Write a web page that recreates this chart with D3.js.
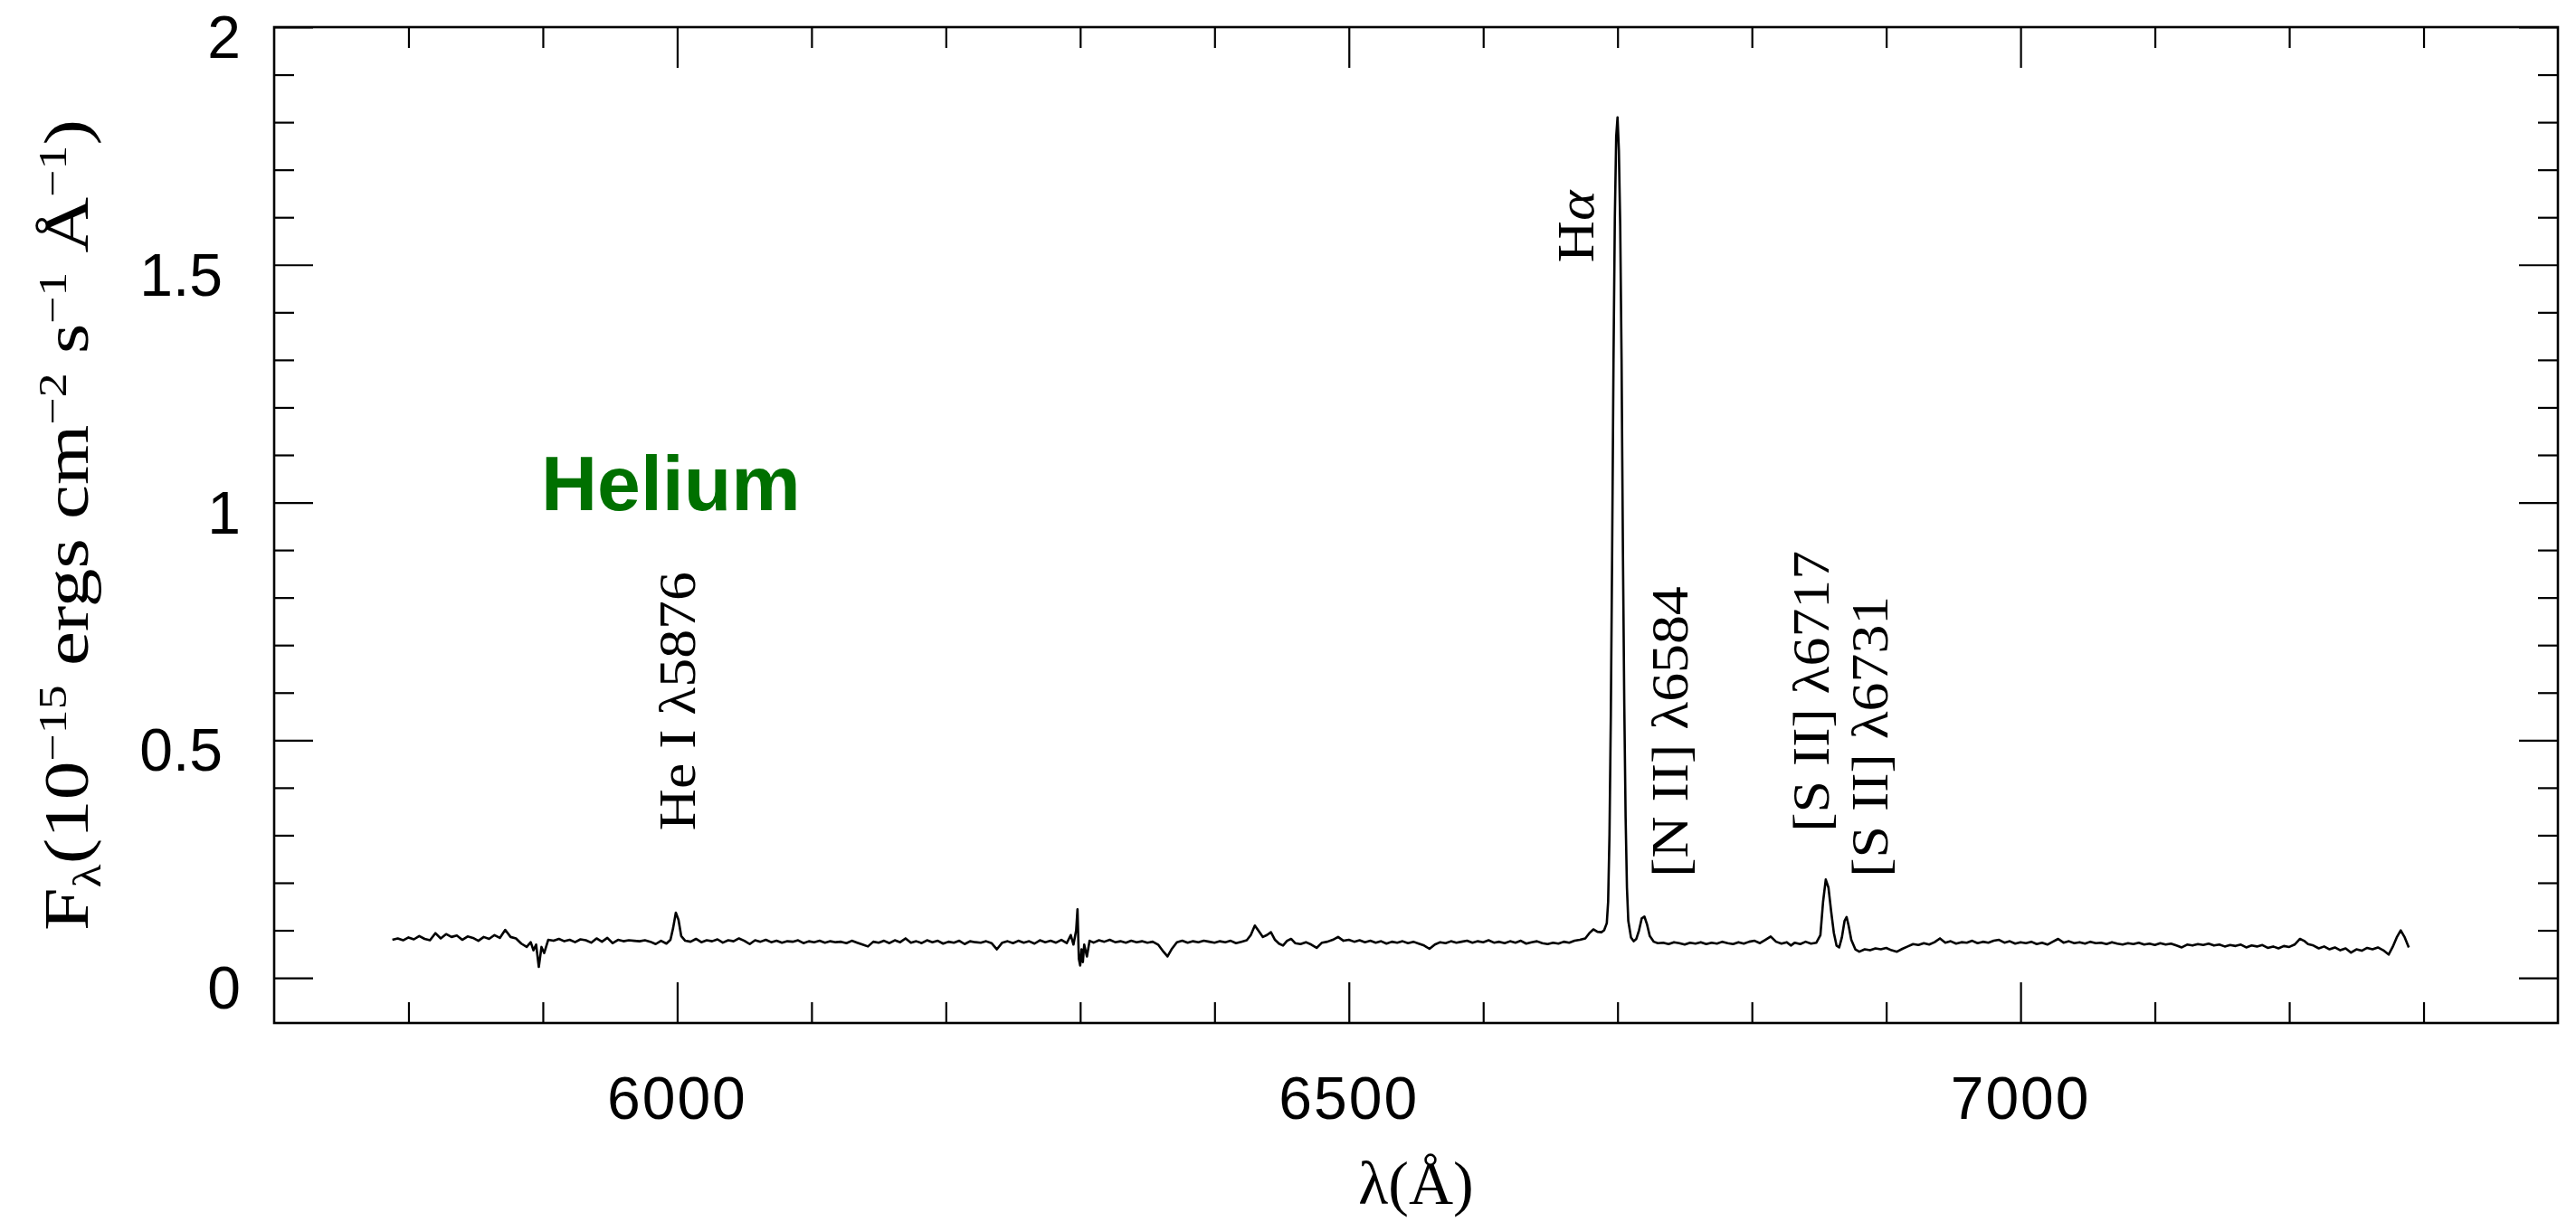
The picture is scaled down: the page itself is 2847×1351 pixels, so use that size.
<!DOCTYPE html>
<html>
<head>
<meta charset="utf-8">
<script src="https://cdn.jsdelivr.net/npm/d3@7/dist/d3.min.js"></script>
<style>
  body { margin: 0; background: #fff; }
  svg { display: block; }
</style>
</head>
<body>
<svg id="chart" width="2847" height="1351"></svg>
<script>
var spectrum = [
  [5788,.080],[5792,.083],[5796,.079],[5800,.085],[5804,.081],[5808,.088],[5812,.082],[5816,.079],
  [5820,.094],[5824,.083],[5828,.092],[5832,.086],[5836,.089],[5840,.080],[5844,.087],[5848,.084],
  [5852,.078],[5856,.086],[5860,.082],[5864,.090],[5868,.084],[5872,.101],[5876,.086],[5880,.083],
  [5884,.072],[5888,.065],[5891,.075],[5893,.058],[5895,.070],[5897,.023],[5899,.065],[5901,.052],
  [5904,.080],[5908,.078],[5912,.082],[5916,.077],[5920,.080],[5924,.075],[5928,.081],[5932,.079],
  [5936,.074],[5940,.083],[5944,.076],[5948,.084],[5952,.073],[5956,.080],[5960,.077],[5964,.079],
  [5968,.078],[5972,.077],[5976,.079],[5980,.076],[5984,.071],[5988,.078],[5992,.072],[5995,.080],
  [5997,.105],[5999,.137],[6001,.122],[6003,.088],[6006,.078],[6010,.076],[6014,.082],[6018,.075],
  [6022,.079],[6026,.077],[6030,.081],[6034,.074],[6038,.079],[6042,.077],[6046,.083],[6050,.078],
  [6054,.071],[6058,.079],[6062,.076],[6066,.080],[6070,.075],[6074,.078],[6078,.074],[6082,.077],
  [6086,.076],[6090,.079],[6094,.073],[6098,.077],[6102,.075],[6106,.078],[6110,.074],[6114,.077],
  [6118,.075],[6122,.076],[6126,.073],[6130,.078],[6134,.074],[6138,.070],[6142,.066],[6146,.076],
  [6150,.074],[6154,.078],[6158,.073],[6162,.079],[6166,.075],[6170,.083],[6174,.074],[6178,.077],
  [6182,.073],[6186,.079],[6190,.075],[6194,.078],[6198,.072],[6202,.076],[6206,.074],[6210,.078],
  [6214,.071],[6218,.077],[6222,.075],[6226,.074],[6230,.077],[6234,.073],[6238,.060],[6242,.074],
  [6246,.077],[6250,.073],[6254,.078],[6258,.074],[6262,.077],[6266,.072],[6270,.079],[6274,.075],
  [6278,.078],[6282,.074],[6286,.080],[6290,.073],[6293,.090],[6295,.070],[6297,.100],[6298,.144],
  [6299,.040],[6300,.026],[6301,.060],[6302,.033],[6303,.070],[6305,.045],[6307,.078],[6310,.074],
  [6314,.079],[6318,.076],[6322,.080],[6326,.075],[6330,.077],[6334,.074],[6338,.078],[6342,.075],
  [6346,.077],[6350,.074],[6354,.076],[6358,.070],[6362,.055],[6365,.045],[6368,.060],[6372,.075],
  [6376,.078],[6380,.074],[6384,.077],[6388,.075],[6392,.078],[6396,.076],[6400,.074],[6404,.077],
  [6408,.075],[6412,.078],[6416,.073],[6420,.076],[6424,.079],[6427,.090],[6430,.110],[6433,.098],
  [6436,.086],[6439,.090],[6442,.096],[6445,.080],[6448,.072],[6451,.068],[6454,.078],[6457,.082],
  [6460,.073],[6464,.071],[6468,.075],[6472,.070],[6476,.063],[6480,.074],[6484,.076],[6488,.080],
  [6492,.086],[6496,.078],[6500,.080],[6504,.076],[6508,.079],[6512,.075],[6516,.078],[6520,.074],
  [6524,.077],[6528,.072],[6532,.076],[6536,.074],[6540,.077],[6544,.073],[6548,.076],[6552,.072],
  [6556,.068],[6560,.061],[6564,.070],[6568,.075],[6572,.073],[6576,.077],[6580,.074],[6584,.076],
  [6588,.078],[6592,.074],[6596,.077],[6600,.075],[6604,.079],[6608,.074],[6612,.076],[6616,.073],
  [6620,.077],[6624,.074],[6628,.078],[6632,.072],[6636,.075],[6640,.077],[6644,.073],[6648,.071],
  [6652,.074],[6656,.072],[6660,.076],[6664,.074],[6668,.078],[6672,.080],[6676,.083],[6679,.094],
  [6682,.102],[6685,.097],[6688,.096],[6690,.100],[6692,.115],[6693,.160],[6694,.300],[6695,.550],
  [6696,.900],[6697,1.30],[6698,1.60],[6699,1.77],[6700,1.81],[6701,1.74],[6702,1.58],[6703,1.30],
  [6704,.900],[6705,.580],[6706,.340],[6707,.190],[6708,.120],[6710,.085],[6712,.077],[6714,.082],
  [6716,.100],[6718,.125],[6720,.129],[6722,.112],[6724,.088],[6727,.076],[6730,.073],[6734,.074],
  [6738,.071],[6742,.075],[6746,.073],[6750,.070],[6754,.074],[6758,.072],[6762,.075],[6766,.071],
  [6770,.074],[6774,.072],[6778,.076],[6782,.073],[6786,.071],[6790,.075],[6794,.072],[6798,.076],
  [6802,.078],[6806,.073],[6810,.080],[6814,.087],[6818,.076],[6822,.072],[6826,.075],[6829,.068],
  [6832,.074],[6836,.071],[6840,.076],[6844,.072],[6848,.074],[6851,.090],[6853,.160],[6855,.207],
  [6857,.190],[6859,.140],[6861,.095],[6863,.068],[6865,.064],[6867,.085],[6869,.120],[6870.5,.128],
  [6872,.110],[6874,.080],[6877,.060],[6880,.055],[6884,.060],[6888,.058],[6892,.062],[6896,.060],
  [6900,.063],[6904,.058],[6908,.055],[6912,.061],[6916,.066],[6920,.071],[6924,.069],[6928,.073],
  [6932,.070],[6936,.075],[6940,.083],[6944,.074],[6948,.077],[6952,.072],[6956,.075],[6960,.074],
  [6964,.078],[6968,.073],[6972,.076],[6976,.074],[6980,.078],[6984,.080],[6988,.074],[6992,.077],
  [6996,.072],[7000,.075],[7004,.073],[7008,.076],[7012,.071],[7016,.074],[7020,.070],[7024,.076],
  [7028,.082],[7032,.074],[7036,.077],[7040,.073],[7044,.075],[7048,.072],[7052,.076],[7056,.073],
  [7060,.074],[7064,.071],[7068,.075],[7072,.072],[7076,.070],[7080,.073],[7084,.071],[7088,.074],
  [7092,.070],[7096,.072],[7100,.069],[7104,.073],[7108,.070],[7112,.072],[7116,.068],[7120,.064],
  [7124,.070],[7128,.068],[7132,.071],[7136,.069],[7140,.072],[7144,.068],[7148,.070],[7152,.066],
  [7156,.069],[7160,.067],[7164,.070],[7168,.064],[7172,.068],[7176,.066],[7180,.069],[7184,.063],
  [7188,.066],[7192,.062],[7196,.067],[7200,.065],[7204,.070],[7208,.082],[7211,.078],[7214,.071],
  [7218,.068],[7222,.062],[7226,.066],[7230,.060],[7234,.064],[7238,.058],[7242,.062],[7246,.053],
  [7250,.060],[7254,.057],[7258,.063],[7262,.060],[7266,.064],[7270,.058],[7274,.049],[7277,.065],
  [7280,.085],[7283,.100],[7286,.085],[7289,.064]
];

// line identifications: text, wavelength of the text baseline, flux where the text starts
var lineNames = ['He I \u03bb5876', 'H', '[N II] \u03bb6584', '[S II] \u03bb6717', '[S II] \u03bb6731'];
var lineWave = [6013, 6682, 6752, 6857, 6901];
var lineFlux = [0.31, 1.505, 0.212, 0.307, 0.212];

var xMajorTicks = [6000, 6500, 7000];
var xMinorTicks = [5800, 5900, 6100, 6200, 6300, 6400, 6600, 6700, 6800, 6900, 7100, 7200, 7300];
var yMajorTicks = [0, 0.5, 1, 1.5, 2];
var yMinorTicks = [0.1, 0.2, 0.3, 0.4, 0.6, 0.7, 0.8, 0.9, 1.1, 1.2, 1.3, 1.4, 1.6, 1.7, 1.8, 1.9];

var svg = d3.select('#chart');
var frameL = 303, frameR = 2827, frameT = 30, frameB = 1131;

var x = d3.scaleLinear().domain([5700, 7400]).range([frameL, frameR]);
var y = d3.scaleLinear().domain([-0.095, 2]).range([frameB, frameT]);

function tickAxis(axis, values, size, transform) {
  var g = svg.append('g')
    .attr('transform', transform)
    .call(axis.tickValues(values).tickSizeInner(size).tickSizeOuter(0).tickFormat(''));
  g.select('.domain').remove();
  g.selectAll('line').attr('stroke', '#000').attr('stroke-width', 2.2);
  return g;
}

// ticks on all four sides, pointing inwards
tickAxis(d3.axisBottom(x), xMinorTicks, -23, 'translate(0,' + frameB + ')');
tickAxis(d3.axisBottom(x), xMajorTicks, -45, 'translate(0,' + frameB + ')');
tickAxis(d3.axisTop(x), xMinorTicks, -23, 'translate(0,' + frameT + ')');
tickAxis(d3.axisTop(x), xMajorTicks, -45, 'translate(0,' + frameT + ')');
tickAxis(d3.axisLeft(y), yMinorTicks, -22, 'translate(' + frameL + ',0)');
tickAxis(d3.axisLeft(y), yMajorTicks, -43, 'translate(' + frameL + ',0)');
tickAxis(d3.axisRight(y), yMinorTicks, -22, 'translate(' + frameR + ',0)');
tickAxis(d3.axisRight(y), yMajorTicks, -43, 'translate(' + frameR + ',0)');

svg.append('rect')
  .attr('x', frameL).attr('y', frameT)
  .attr('width', frameR - frameL).attr('height', frameB - frameT)
  .attr('fill', 'none').attr('stroke', '#000').attr('stroke-width', 2.6);

// tick labels
svg.append('g').selectAll('text').data(xMajorTicks).enter().append('text')
  .attr('x', function (d) { return x(d); })
  .attr('y', frameB + 106)
  .attr('text-anchor', 'middle')
  .attr('font-family', 'Liberation Sans, Arial, sans-serif')
  .attr('font-size', 66)
  .attr('letter-spacing', 2)
  .text(function (d) { return d; });

svg.append('g').selectAll('text').data(yMajorTicks).enter().append('text')
  .attr('x', function (d) { return Number.isInteger(d) ? 266 : 246; })
  .attr('y', function (d) { return y(d) + 34; })
  .attr('text-anchor', 'end')
  .attr('font-family', 'Liberation Sans, Arial, sans-serif')
  .attr('font-size', 66)
  .text(function (d) { return d; });

// spectrum
var line = d3.line()
  .x(function (d) { return x(d[0]); })
  .y(function (d) { return y(d[1]); });

svg.append('path')
  .datum(spectrum)
  .attr('d', line)
  .attr('fill', 'none')
  .attr('stroke', '#000')
  .attr('stroke-width', 2.6)
  .attr('stroke-linejoin', 'round');

// line identifications, rotated
var labels = svg.append('g').selectAll('text').data(lineNames).enter().append('text')
  .attr('transform', function (d, i) {
    return 'translate(' + x(lineWave[i]) + ',' + y(lineFlux[i]) + ') rotate(-90) scale(1.1,1)';
  })
  .attr('font-family', 'Liberation Serif, Times New Roman, serif')
  .attr('font-size', 58)
  .attr('fill', '#000')
  .text(function (d) { return d; });
labels.filter(function (d) { return d === 'H'; })
  .append('tspan').attr('font-style', 'italic').text('\u03b1');

// axis titles
svg.append('text')
  .attr('x', (frameL + frameR) / 2)
  .attr('y', 1331)
  .attr('text-anchor', 'middle')
  .attr('font-family', 'Liberation Serif, Times New Roman, serif')
  .attr('font-size', 68)
  .text('\u03bb(\u00c5)');

var yTitle = svg.append('text')
  .attr('text-anchor', 'middle')
  .attr('font-family', 'Liberation Serif, Times New Roman, serif')
  .attr('font-size', 70);
var parts = [
  ['F', 0, 70], ['\u03bb', 14, 44], ['(10', -14, 70], ['\u221215', -24, 44],
  [' ergs  cm', 24, 70], ['\u22122', -24, 44], [' s', 24, 70], ['\u22121', -24, 44],
  [' \u00c5', 24, 70], ['\u22121', -24, 44], [')', 24, 70]
];
parts.forEach(function (p) {
  yTitle.append('tspan').attr('dy', p[1]).attr('font-size', p[2]).text(p[0]);
});
var titleLen = yTitle.node().getBBox().width;
var stretch = 897 / titleLen;
yTitle.attr('transform', 'translate(97,' + (frameT + frameB) / 2 + ') rotate(-90) scale(' + stretch + ',1)');

// Helium tag
svg.append('text')
  .attr('x', 598)
  .attr('y', 564)
  .attr('font-family', 'Liberation Sans, Arial, sans-serif')
  .attr('font-weight', 'bold')
  .attr('font-size', 86)
  .attr('fill', '#007000')
  .text('Helium');
</script>
</body>
</html>
